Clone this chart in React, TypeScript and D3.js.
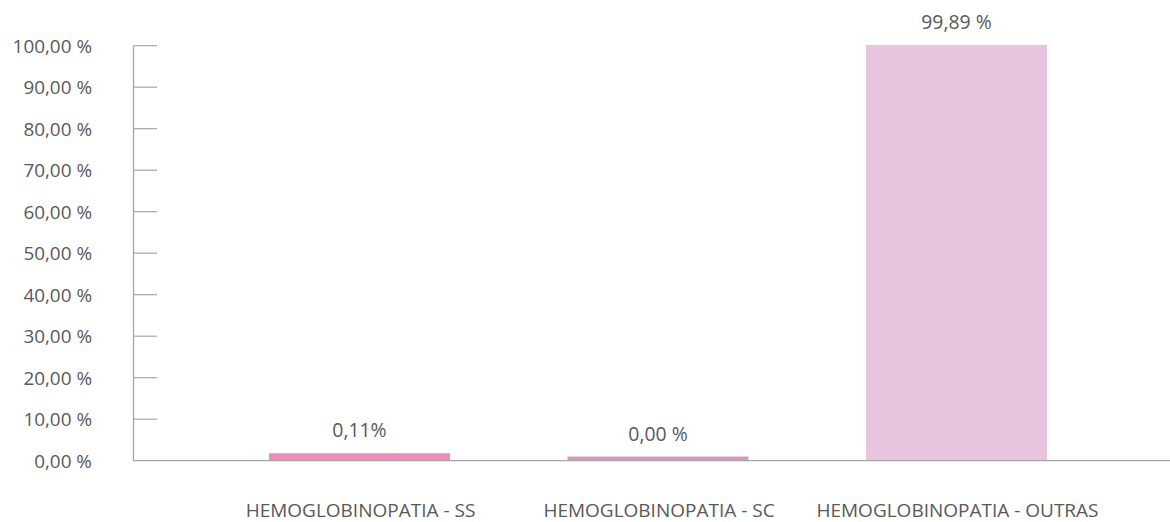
import React from "react";
import * as d3 from "d3";

const categories = ["HEMOGLOBINOPATIA - SS", "HEMOGLOBINOPATIA - SC", "HEMOGLOBINOPATIA - OUTRAS"];
// bar heights as drawn in the picture (percent of axis)
const barValues = [1.8, 1.0, 100.2];
// labels printed above bars
const barLabels = ["0,11%", "0,00 %", "99,89 %"];
const barColors = ["#EE8BB9", "#D795C1", "#E8C5DE"];
const yTicks = [0, 10, 20, 30, 40, 50, 60, 70, 80, 90, 100];
const yTickLabels = ["0,00 %", "10,00 %", "20,00 %", "30,00 %", "40,00 %", "50,00 %", "60,00 %", "70,00 %", "80,00 %", "90,00 %", "100,00 %"];

const W = 1170;
const H = 522;
const FONT = "'Open Sans', 'Noto Sans', sans-serif";
const TEXT = "#595959";
const AXIS = "#A6A6A6";

export default function App() {
  const y = d3.scaleLinear().domain([0, 100]).range([460.7, 45.7]);
  const x = d3
    .scaleBand<string>()
    .domain(categories)
    .range([210.25, 1105.75])
    .paddingInner(0.394)
    .paddingOuter(0.197);
  const axisX = 133.5;

  return (
    <svg
      width={W}
      height={H}
      style={{ position: "absolute", left: 0, top: 0, background: "#fff" }}
    >
      {/* y axis */}
      <line x1={axisX} x2={axisX} y1={y(100)} y2={y(0)} stroke={AXIS} strokeWidth={1.3} />
      {yTicks.map((t, i) => (
        <g key={t}>
          {t > 0 && (
            <line x1={axisX} x2={157} y1={y(t)} y2={y(t)} stroke={AXIS} strokeWidth={1.2} />
          )}
          <text
            x={92}
            y={y(t)}
            dy="0.36em"
            textAnchor="end"
            fontFamily={FONT}
            fontSize={18.9}
            fill={TEXT}
          >
            {yTickLabels[i]}
          </text>
        </g>
      ))}
      {/* bars */}
      {categories.map((c, i) => (
        <g key={c}>
          <rect
            x={x(c)}
            y={y(barValues[i])}
            width={x.bandwidth()}
            height={y(0) - y(barValues[i])}
            fill={barColors[i]}
          />
          <text
            x={(x(c) as number) + x.bandwidth() / 2}
            y={y(barValues[i]) - 16}
            textAnchor="middle"
            fontFamily={FONT}
            fontSize={19.4}
            fill={TEXT}
          >
            {barLabels[i]}
          </text>
          <text
            x={(x(c) as number) + x.bandwidth() / 2 + 1}
            y={517}
            textAnchor="middle"
            fontFamily={FONT}
            fontSize={19}
            fill={TEXT}
          >
            {c}
          </text>
        </g>
      ))}
      {/* baseline */}
      <line x1={axisX - 0.6} x2={W} y1={y(0)} y2={y(0)} stroke={AXIS} strokeWidth={1.3} />
    </svg>
  );
}
